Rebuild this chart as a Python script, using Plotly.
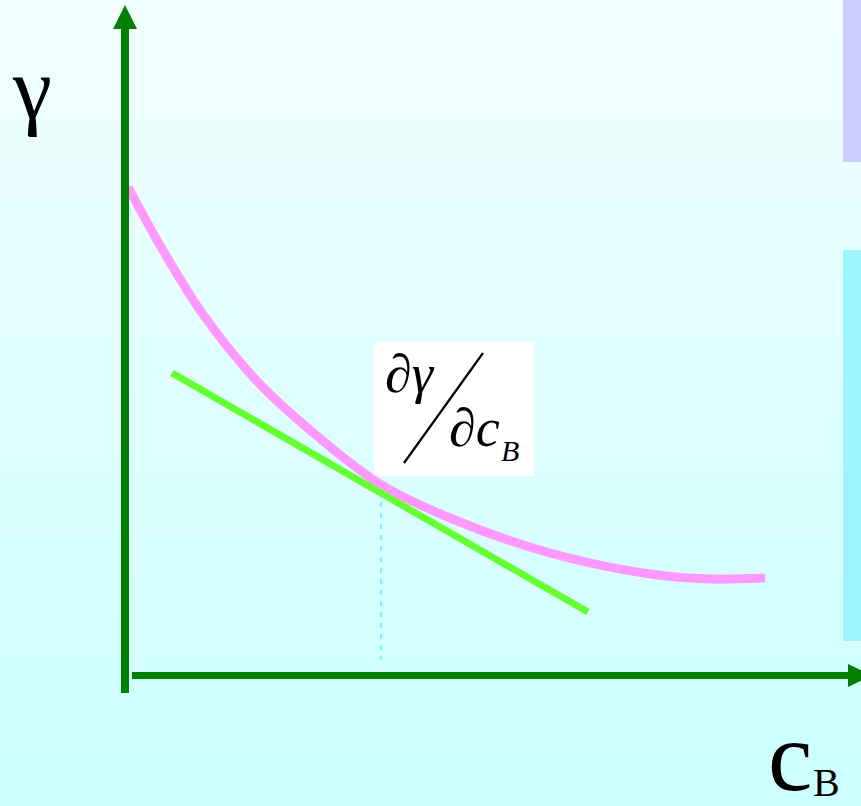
import plotly.graph_objects as go

# ---- data (c_B, gamma) in chart units ----
curve_cB = [0.03, 0.36, 0.77, 1.31, 1.85, 2.55, 3.25, 4.25, 5.25, 5.85, 6.40]
curve_gamma = [4.88, 4.28, 3.62, 2.95, 2.45, 1.91, 1.57, 1.22, 1.01, 0.96, 0.97]
tangent_cB = [0.47, 4.63]
tangent_gamma = [3.02, 0.63]
tangent_point_cB = [2.56, 2.56]
tangent_point_gamma = [1.95, 0.15]

W, H = 861, 806
X0, Y0, S = 125.0, 675.0, 100.0


def dx(px):
    return (px - X0) / S


def dy(py):
    return (Y0 - py) / S


fig = go.Figure()

shapes = []
# background gradient
top = (242, 255, 255)
bot = (204, 255, 255)
n = 60
for i in range(n):
    t = i / (n - 1)
    c = tuple(round(top[k] + (bot[k] - top[k]) * t) for k in range(3))
    shapes.append(dict(type="rect", xref="paper", yref="paper",
                       x0=0, x1=1, y0=1 - (i + 1) / n - 0.001, y1=1 - i / n + 0.001,
                       fillcolor="rgb(%d,%d,%d)" % c, line=dict(width=0), layer="below"))
# right side blocks
shapes.append(dict(type="rect", xref="x", yref="y", x0=dx(843), x1=dx(870), y0=dy(-5), y1=dy(162),
                   fillcolor="#CCCCFF", line=dict(width=0), layer="below"))
shapes.append(dict(type="rect", xref="x", yref="y", x0=dx(843), x1=dx(870), y0=dy(250), y1=dy(641),
                   fillcolor="#9EF5FF", line=dict(width=0), layer="below"))
# label box
shapes.append(dict(type="rect", xref="x", yref="y", x0=dx(374), x1=dx(534), y0=dy(342), y1=dy(476),
                   fillcolor="white", line=dict(width=0), layer="below"))
# slash
shapes.append(dict(type="line", xref="x", yref="y", x0=dx(404), y0=dy(463), x1=dx(483), y1=dy(353),
                   line=dict(color="black", width=2.2)))
# axes
G = "#007F00"
shapes.append(dict(type="line", xref="x", yref="y", x0=dx(125), y0=dy(693), x1=dx(125), y1=dy(26),
                   line=dict(color=G, width=8)))
shapes.append(dict(type="path", xref="x", yref="y",
                   path="M %f,%f L %f,%f L %f,%f Z" % (dx(113), dy(29), dx(137), dy(29), dx(125), dy(5)),
                   fillcolor=G, line=dict(width=0)))
shapes.append(dict(type="line", xref="x", yref="y", x0=dx(132), y0=dy(675.5), x1=dx(852), y1=dy(675.5),
                   line=dict(color=G, width=7)))
shapes.append(dict(type="path", xref="x", yref="y",
                   path="M %f,%f L %f,%f L %f,%f Z" % (dx(848), dy(664), dx(848), dy(687), dx(872), dy(675.5)),
                   fillcolor=G, line=dict(width=0)))

fig.add_trace(go.Scatter(x=tangent_point_cB, y=tangent_point_gamma, mode="lines",
                         line=dict(color="#66FFFF", width=2, dash="5px,6px"), hoverinfo="skip"))
fig.add_trace(go.Scatter(x=curve_cB, y=curve_gamma, mode="lines",
                         line=dict(color="#FF99FF", width=9, shape="spline", smoothing=1.0), hoverinfo="skip"))
fig.add_trace(go.Scatter(x=tangent_cB, y=tangent_gamma, mode="lines",
                         line=dict(color="#66FF33", width=7), hoverinfo="skip"))

serif = "Liberation Serif"
annotations = [
    dict(x=dx(32), y=dy(88), text="γ", font=dict(family=serif, size=88, color="black")),
    dict(x=dx(410), y=dy(374), text="<i>∂γ</i>", font=dict(family=serif, size=54, color="black")),
    dict(x=dx(474), y=dy(428), text="<i>∂c</i>", font=dict(family=serif, size=54, color="black")),
    dict(x=dx(510), y=dy(450), text="<i>B</i>", font=dict(family=serif, size=30, color="black")),
    dict(x=dx(790), y=dy(756), text="c", font=dict(family=serif, size=100, color="black")),
    dict(x=dx(826), y=dy(782), text="B", font=dict(family=serif, size=40, color="black")),
]
for a in annotations:
    a.update(xref="x", yref="y", showarrow=False, xanchor="center", yanchor="middle")

fig.update_layout(
    width=W, height=H, autosize=False,
    margin=dict(l=0, r=0, t=0, b=0, pad=0),
    paper_bgcolor="#DFFFFF", plot_bgcolor="rgba(0,0,0,0)",
    showlegend=False,
    shapes=shapes, annotations=annotations,
    xaxis=dict(range=[dx(0), dx(W)], visible=False, fixedrange=True),
    yaxis=dict(range=[dy(H), dy(0)], visible=False, fixedrange=True),
)

fig.write_html("out.html", config={"displayModeBar": False},
               post_script="document.body.style.margin='0';document.body.style.padding='0';"
                           "document.body.style.overflow='hidden';")
